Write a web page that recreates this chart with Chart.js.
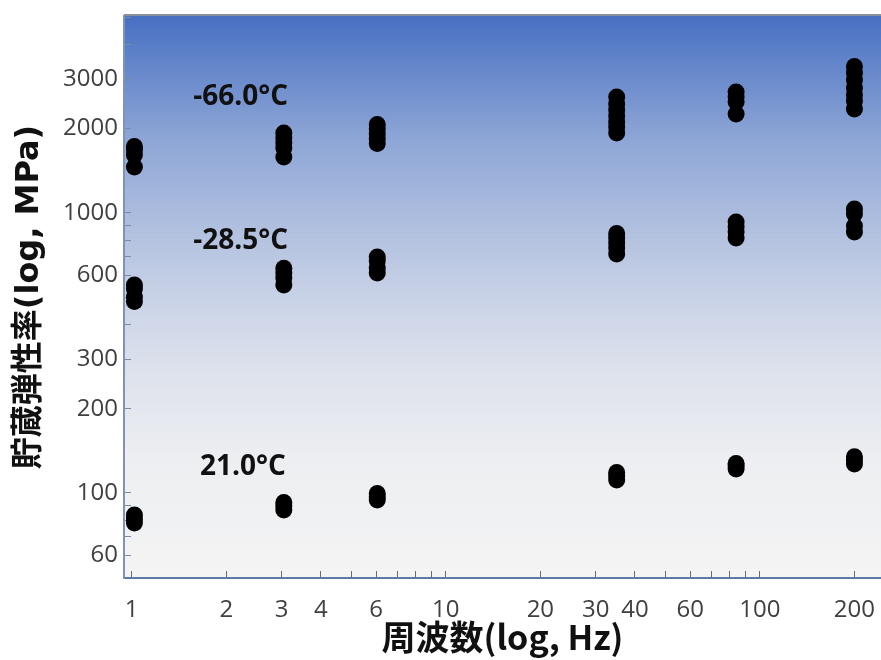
<!DOCTYPE html>
<html>
<head>
<meta charset="utf-8">
<script src="https://cdn.jsdelivr.net/npm/chart.js@4"></script>
<style>
  html, body { margin: 0; padding: 0; background: #ffffff; }
  #wrap { width: 881px; height: 660px; }
</style>
</head>
<body>
<div id="wrap"><canvas id="storage-chart"></canvas></div>
<script>
// measurement frequencies (Hz)
const freqHz = [1.02, 3.05, 6.05, 35, 84, 200];

// storage modulus readings (MPa), one list per frequency
const modulusMinus66 = [
    [1728, 1679, 1611, 1460],
    [1931, 1853, 1778, 1707, 1585],
    [2070, 1995, 1915, 1838, 1771],
    [2596, 2451, 2333, 2220, 2113, 2028, 1931],
    [2705, 2596, 2491, 2258],
    [3336, 3162, 2985, 2795, 2637, 2512, 2351]
];
const modulusMinus28 = [
    [553, 535, 501, 483],
    [634, 610, 586, 553],
    [696, 674, 636, 610],
    [845, 814, 781, 750, 714],
    [929, 891, 855, 814],
    [1033, 992, 899, 855]
];
const modulus21 = [
    [83.5, 80.8, 78.1],
    [92.5, 89.9, 87.0],
    [99.6, 96.8, 94.4],
    [118.4, 115.0, 111.3],
    [127.4, 124.9, 121.8],
    [134.7, 131.2, 126.9]
];

const tempLabels = ['-66.0°C', '-28.5°C', '21.0°C'];
const tempLabelFreq = [1.57, 1.57, 1.65];
const tempLabelModulus = [2600, 795, 124];

const xTickLabels = [1, 2, 3, 4, 6, 10, 20, 30, 40, 60, 100, 200];
const yTickLabels = [60, 100, 200, 300, 600, 1000, 2000, 3000];

function toPoints(lists) {
    const pts = [];
    lists.forEach((vals, i) => vals.forEach(v => pts.push({x: freqHz[i], y: v})));
    return pts;
}

// 1..9 x 10^n ticks inside [min, max]
function logTicks(min, max) {
    const out = [];
    for (let p = -1; p <= 4; p++) {
        for (let m = 1; m <= 9; m++) {
            const v = Math.round(m * Math.pow(10, p) * 1000) / 1000;
            if (v >= min && v <= max) out.push({value: v});
        }
    }
    return out;
}

const plotBackground = {
    id: 'plotBackground',
    beforeDraw(chart) {
        const {ctx, chartArea: a} = chart;
        const g = ctx.createLinearGradient(0, a.top, 0, a.bottom);
        g.addColorStop(0, '#4870c2');
        g.addColorStop(0.22, '#8ea6d6');
        g.addColorStop(0.40, '#b5c3e0');
        g.addColorStop(0.52, '#ccd5e8');
        g.addColorStop(0.64, '#dee2ec');
        g.addColorStop(0.78, '#eceef1');
        g.addColorStop(1, '#f4f4f4');
        ctx.save();
        ctx.fillStyle = g;
        ctx.fillRect(a.left, a.top, a.right - a.left, a.bottom - a.top);
        ctx.strokeStyle = '#8a8f9c';
        ctx.lineWidth = 2;
        ctx.beginPath();
        ctx.moveTo(a.left, a.top - 1);
        ctx.lineTo(a.right, a.top - 1);
        ctx.stroke();
        ctx.restore();
    }
};

const tempText = {
    id: 'tempText',
    afterDatasetsDraw(chart) {
        const {ctx, scales} = chart;
        ctx.save();
        ctx.font = 'bold 28px "Open Sans", "Noto Sans", sans-serif';
        ctx.fillStyle = '#111111';
        ctx.textAlign = 'left';
        ctx.textBaseline = 'middle';
        tempLabels.forEach((t, i) => {
            ctx.fillText(t, scales.x.getPixelForValue(tempLabelFreq[i]), scales.y.getPixelForValue(tempLabelModulus[i]));
        });
        ctx.restore();
    }
};

const dotStyle = {
    backgroundColor: '#000000',
    borderColor: '#000000',
    borderWidth: 0,
    pointRadius: 8.5,
    pointHoverRadius: 8.5
};

new Chart(document.getElementById('storage-chart').getContext('2d'), {
    type: 'scatter',
    data: {
        datasets: [
            {label: tempLabels[0], data: toPoints(modulusMinus66), ...dotStyle},
            {label: tempLabels[1], data: toPoints(modulusMinus28), ...dotStyle},
            {label: tempLabels[2], data: toPoints(modulus21), ...dotStyle}
        ]
    },
    options: {
        responsive: true,
        maintainAspectRatio: false,
        animation: false,
        layout: {autoPadding: false, padding: {top: 16, right: 0, left: 0, bottom: 0}},
        plugins: {legend: {display: false}, tooltip: {enabled: false}},
        scales: {
            x: {
                type: 'logarithmic',
                min: 0.945,
                max: 243,
                afterBuildTicks: s => { s.ticks = logTicks(s.min, s.max); },
                afterFit: s => { s.height = 82; s.paddingLeft = 0; s.paddingRight = 0; },
                ticks: {
                    autoSkip: false,
                    maxRotation: 0,
                    padding: 25,
                    color: '#404040',
                    font: {family: '"Open Sans", "Noto Sans", sans-serif', size: 24},
                    callback: v => xTickLabels.includes(v) ? String(v) : ''
                },
                grid: {drawOnChartArea: false, drawTicks: true, tickLength: -7, tickColor: '#6a6a6a', tickWidth: 1},
                border: {display: true, color: '#5a78a8', width: 2},
                title: {
                    display: true,
                    text: '周波数(log, Hz)',
                    color: '#111111',
                    font: {family: '"Noto Sans CJK JP", sans-serif', size: 34, weight: 'bold'},
                    padding: {top: 0, bottom: 3}
                }
            },
            y: {
                type: 'logarithmic',
                min: 49.7,
                max: 5050,
                afterBuildTicks: s => { s.ticks = logTicks(s.min, s.max); },
                afterFit: s => { s.width = 124; s.paddingTop = 0; s.paddingBottom = 0; },
                ticks: {
                    autoSkip: false,
                    padding: 13,
                    color: '#404040',
                    font: {family: '"Open Sans", "Noto Sans", sans-serif', size: 24},
                    callback: v => yTickLabels.includes(v) ? String(v) : ''
                },
                grid: {drawOnChartArea: false, drawTicks: true, tickLength: -7, tickColor: '#7a8aa8', tickWidth: 1},
                border: {display: true, color: '#7f93b8', width: 2},
                title: {
                    display: true,
                    text: '貯蔵弾性率(log, MPa)',
                    color: '#111111',
                    font: {family: '"DejaVu Sans", "Noto Sans CJK JP", sans-serif', size: 32, weight: 'bold'},
                    padding: {top: 10, bottom: 0}
                }
            }
        }
    },
    plugins: [plotBackground, tempText]
});
</script>
</body>
</html>
